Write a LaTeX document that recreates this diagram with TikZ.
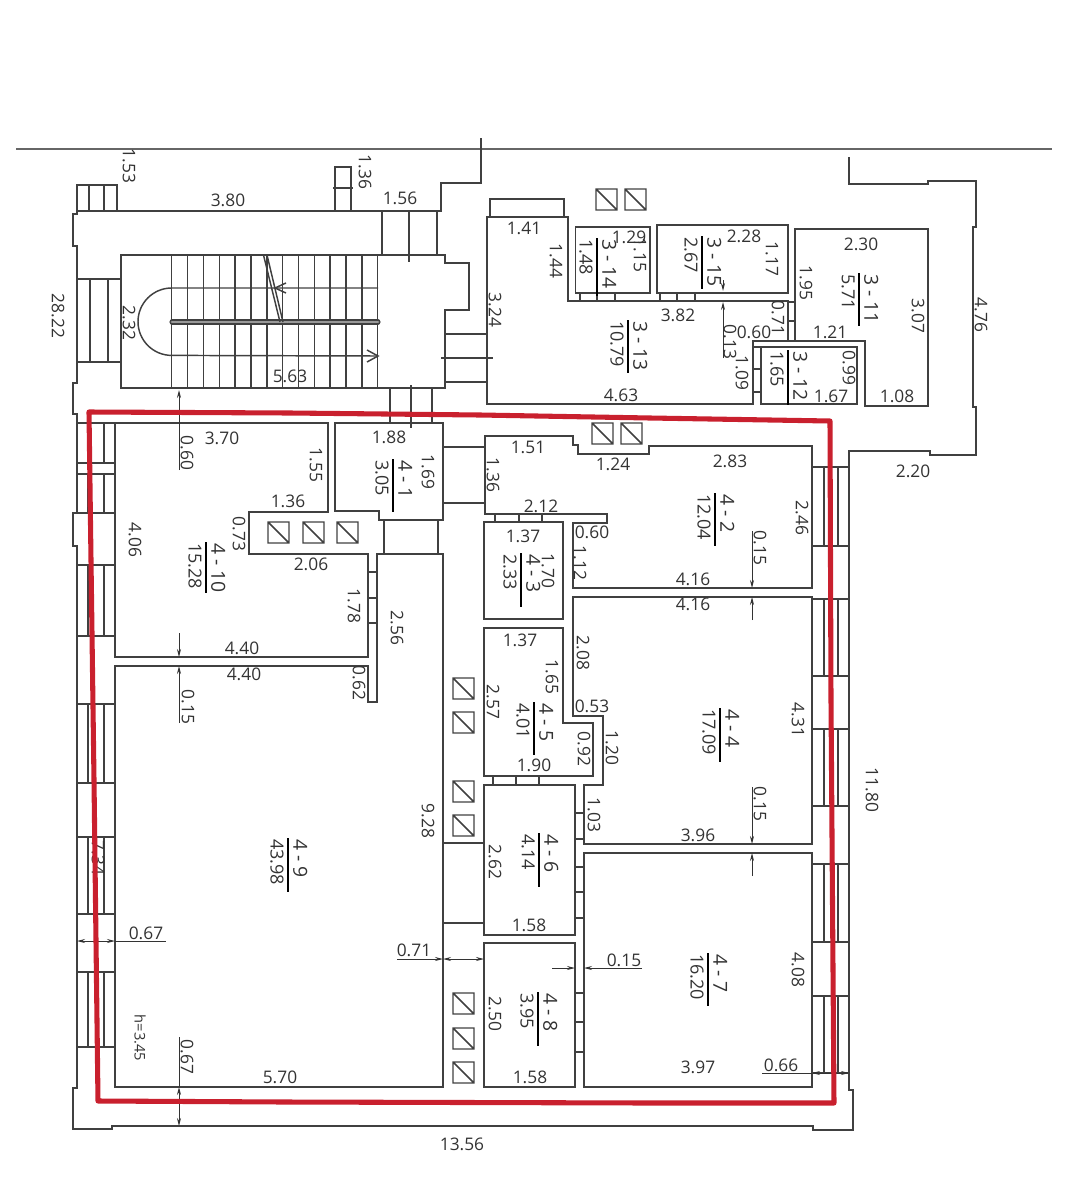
\documentclass[tikz,border=0pt]{standalone}
\usepackage{fontspec}
\setmainfont{Open Sans}
\usetikzlibrary{arrows.meta}
\definecolor{wallgray}{HTML}{404040}
\definecolor{markred}{HTML}{C9202E}
\tikzset{
  wall/.style = {draw = wallgray, line width = 1.1pt, line join = miter},
  dimline/.style = {draw = black!80, line width = 0.7pt, >={Stealth[length=6pt,width=3pt]}},
  dimh/.style = {text = black!80, font = \fontsize{13}{13}\selectfont, inner sep = 0pt},
  dimv/.style = {dimh, rotate = -90},
  roomtop/.style = {dimv, anchor = south west, font = \fontsize{14.5}{14.5}\selectfont},
  roomlow/.style = {dimv, anchor = north west, font = \fontsize{13.5}{13.5}\selectfont},
}
\newcommand{\shaftbox}[2]{\draw [wall] (#1,#2) rectangle ++(21,21) (#1,#2) -- ++(21,21);}
\begin{document}
\begin{tikzpicture}[x = 0.75pt, y = -0.75pt]
  \useasboundingbox (0,0) rectangle (1068,1200);

  % outer walls
  \draw [wall, draw = black!60] (16,149) -- (1052,149);
  \draw [wall] (481,138) -- (481,183) -- (441,183) -- (441,211) -- (77,211) -- (77,214) -- (73,214)
    -- (73,246) -- (77,246) -- (77,383) -- (73,383) -- (73,414) -- (77,414) -- (77,513) -- (73,513)
    -- (73,546) -- (77,546) -- (77,1088) -- (73,1088) -- (73,1129) -- (112,1129) -- (112,1126)
    -- (813,1126) -- (813,1130) -- (853,1130) -- (853,1090) -- (849,1090) -- (849,451) -- (930,451)
    -- (930,455) -- (976,455) -- (976,407) -- (973,407) -- (973,227) -- (976,227) -- (976,181)
    -- (928,181) -- (928,184) -- (849,184) -- (849,157);

  % porch steps and chimney
  \draw [wall] (77,211) -- (77,185) -- (117,185) -- (117,211) (89,185) -- (89,211) (104,185) -- (104,211);
  \draw [wall] (335,211) -- (335,167) -- (351,167) -- (351,211) (333,188) -- (353,188);
  \draw [wall] (77,279) -- (121,279) (77,362) -- (121,362) (90,279) -- (90,362) (108,279) -- (108,362);

  % staircase
  \draw [wall] (121,255) -- (445,255) -- (445,263) -- (469,263) -- (469,310) -- (445,310) -- (445,388)
    -- (121,388) -- cycle;
  \foreach \sx in {171.7,187.55,...,378}
    \draw [wall] (\sx,255) -- (\sx,388);
  \draw [wall] (378,288) -- (171.7,288) arc (270:90:33.7) -- (378,356);
  \draw [line width = 3.8pt, draw = wallgray, line cap = round] (172,322) -- (378,322);
  \draw [line width = 2.2pt, draw = black!40, line cap = round] (172,322) -- (378,322);
  \draw [wall] (263.5,255) -- (280,322) (267,255) -- (283,322);
  \draw [wall] (286,283) -- (275,288) -- (286,293) (367,350) -- (378,356) -- (367,362);
  \draw [wall] (382,211) -- (382,255) (437,211) -- (437,255) (409,211) -- (409,262);
  \draw [wall] (390,388) -- (390,423) (432,388) -- (432,423) (411,385) -- (411,428);
  \draw [wall] (445,334) -- (487,334) (445,382) -- (487,382) (441,358) -- (493,358);

  % third floor rooms
  \draw [wall] (487,217) -- (568,217) -- (568,301) -- (788,301) -- (788,341) -- (753,341) -- (753,404)
    -- (487,404) -- cycle;
  \draw [wall] (490,217) -- (490,199) -- (564,199) -- (564,217);
  \draw [wall] (575.5,227) rectangle (650,293);
  \draw [wall] (657,225) rectangle (788,293);
  \draw [wall] (795,229) -- (928,229) -- (928,406) -- (865,406) -- (865,341) -- (795,341) -- cycle;
  \draw [wall] (761,347) rectangle (857,404) (753,347) -- (761,347);
  \draw [wall] (753,369) -- (761,369) (753,392) -- (761,392);
  \foreach \tx in {580,597,615,660,677,695}
    \draw [wall] (\tx,293) -- (\tx,301);
  \foreach \ty in {302,321,341}
    \draw [wall] (788,\ty) -- (795,\ty);

  % fourth floor rooms
  \draw [wall] (115,423) -- (328,423) -- (328,512) -- (249,512) -- (249,554) -- (368,554) -- (368,657)
    -- (115,657) -- cycle;
  \draw [wall] (335,423) -- (443,423) -- (443,520) -- (379,520) -- (379,511) -- (335,511) -- cycle;
  \draw [wall] (384,520) -- (384,554) (438,520) -- (438,554);
  \draw [wall] (115,666) -- (368,666) -- (368,702) -- (377,702) -- (377,554) -- (443,554) -- (443,1087)
    -- (115,1087) -- cycle;
  \foreach \ty in {572,598,623}
    \draw [wall] (368,\ty) -- (377,\ty);
  \draw [wall] (443,447) -- (485,447) (443,503) -- (485,503) (443,843) -- (484,843) (443,923) -- (484,923);
  \draw [wall] (485,514) -- (485,436) -- (573,436) -- (573,445) -- (578,445) -- (578,454) -- (649,454)
    -- (649,446) -- (812,446) -- (812,588) -- (573,588) -- (573,523) -- (607,523) -- (607,514) -- cycle;
  \foreach \tx in {495,519,542}
    \draw [wall] (\tx,514) -- (\tx,522);
  \draw [wall] (484,522) rectangle (563,619);
  \draw [wall] (573,597) -- (812,597) -- (812,844) -- (584,844) -- (584,785) -- (603,785) -- (603,716)
    -- (573,716) -- cycle;
  \draw [wall] (484,628) -- (563,628) -- (563,723) -- (593,723) -- (593,776) -- (484,776) -- cycle;
  \foreach \tx in {493,516,539}
    \draw [wall] (\tx,776) -- (\tx,785);
  \draw [wall] (484,785) rectangle (575,935);
  \draw [wall] (484,943) rectangle (575,1087);
  \draw [wall] (584,853) rectangle (812,1087);
  \foreach \ty in {813,839,867,892,918,993,1022,1052}
    \draw [wall] (575,\ty) -- (584,\ty);

  % windows
  \foreach \wa/\wb in {423/463,474/513,565/636,704/783,837/914,972/1047}
    \draw [wall] (77,\wa) -- (115,\wa) (77,\wb) -- (115,\wb) (88,\wa) -- (88,\wb) (104,\wa) -- (104,\wb);
  \foreach \wa/\wb in {467/546,599/676,729/806,864/942,996/1073}
    \draw [wall] (812,\wa) -- (849,\wa) (812,\wb) -- (849,\wb) (824,\wa) -- (824,\wb) (838,\wa) -- (838,\wb);

  % shafts
  \foreach \bx/\by in {596/189,625/189,592/423,621/423,268/522,303/522,337/522,453/678,453/712,
    453/781,453/815,453/993,453/1028,453/1062}
    \shaftbox{\bx}{\by};

  % dimension arrows
  \draw [dimline, ->] (179,470) -- (179,390);
  \draw [dimline, ->] (179,633) -- (179,657);
  \draw [dimline, ->] (179,723) -- (179,666);
  \draw [dimline] (179,1037) -- (179,1087);
  \draw [dimline, <->] (179,1087) -- (179,1126);
  \draw [dimline, <->] (77,941) -- (115,941);
  \draw [dimline] (115,941) -- (166,941);
  \draw [dimline, ->] (397,959) -- (443,959);
  \draw [dimline, <->] (443,959) -- (484,959);
  \draw [dimline, ->] (552,968) -- (575,968);
  \draw [dimline, ->] (642,968) -- (584,968);
  \draw [dimline, <->] (812,1073) -- (849,1073);
  \draw [dimline] (762,1073) -- (812,1073);
  \draw [dimline, ->] (752,531) -- (752,588);
  \draw [dimline, ->] (752,620) -- (752,597);
  \draw [dimline, ->] (752,787) -- (752,844);
  \draw [dimline, ->] (752,876) -- (752,853);
  \draw [dimline, ->] (723,358) -- (723,302);
  \draw [dimline, ->] (723,280) -- (723,291);

  % room fractions
  \foreach \lx/\ly/\ls/\rn/\ra [count = \i] in {288/838/892/{4 - 9}/43.98,206/542/593/{4 - 10}/15.28,
    393/459/512/{4 - 1}/3.05,628/320/373/{3 - 13}/10.79,597/238/296/{3 - 14}/1.48,702/236/289/{3 - 15}/2.67,
    859/273/326/{3 - 11}/5.71,788/350/405/{3 - 12}/1.65,715/493/546/{4 - 2}/12.04,521/553/607/{4 - 3}/2.33,
    534/702/755/{4 - 5}/4.01,720/708/762/{4 - 4}/17.09,539/833/887/{4 - 6}/4.14,538/992/1046/{4 - 8}/3.95,
    708/953/1006/{4 - 7}/16.20} {
    \draw [draw = black, line width = 1.1pt] (\lx,\ly) -- (\lx,\ls);
    \node [roomtop] (rn\i) at (\lx+5,\ly+1) {\rn};
    \node [roomlow] (ra\i) at (\lx-4,\ly+1) {\ra};
  }

  % horizontal sizes
  \foreach \dx/\dy/\dt [count = \i] in {228/200/3.80,400/198/1.56,290/376/5.63,222/438/3.70,389/437/1.88,
    288/501/1.36,311/564/2.06,242/648/4.40,244/674/4.40,146/933/0.67,414/950/0.71,280/1077/5.70,
    462/1144/13.56,524/228/1.41,629/237/1.29,744/236/2.28,861/244/2.30,678/315/3.82,754/332/0.60,
    830/332/1.21,621/395/4.63,831/396/1.67,897/396/1.08,528/447/1.51,613/464/1.24,730/461/2.83,
    541/506/2.12,592/532/0.60,523/536/1.37,693/579/4.16,693/604/4.16,520/640/1.37,592/706/0.53,
    534/765/1.90,698/835/3.96,529/925/1.58,624/960/0.15,530/1077/1.58,698/1067/3.97,781/1065/0.66,
    913/471/2.20}
    \node [dimh] (dh\i) at (\dx,\dy) {\dt};

  % vertical sizes
  \foreach \dx/\dy/\dt [count = \i] in {129/166/1.53,365/172/1.36,58/316/28.22,129/323/2.32,495/310/3.24,
    556/261/1.44,640/255/1.15,772/259/1.17,806/283/1.95,918/316/3.07,981/315/4.76,
    730/342/0.13,778/318/0.71,742/373/1.09,849/368/0.99,187/453/0.60,316/465/1.55,428/472/1.69,
    239/534/0.73,135/540/4.06,354/606/1.78,397/628/2.56,359/683/0.62,188/707/0.15,493/475/1.36,
    802/518/2.46,760/548/0.15,548/571/1.70,580/563/1.12,583/653/2.08,552/677/1.65,493/702/2.57,
    798/720/4.31,584/749/0.92,612/748/1.20,594/815/1.03,760/804/0.15,495/862/2.62,495/1014/2.50,
    798/970/4.08,872/790/11.80,428/821/9.28,98/858/7.34,187/1057/0.67}
    \node [dimv] (dv\i) at (\dx,\dy) {\dt};
  \node [dimv, font = \fontsize{11}{11}\selectfont] (hgt) at (140,1038) {h=3.45};

  % marked area
  \draw [draw = markred, line width = 3.8pt, line join = round] (89,412) -- (290,413) -- (480,415)
    -- (650,418) -- (830,421) -- (831,700) -- (834,1103) -- (650,1103) -- (285,1102) -- (98,1101)
    -- (94,780) -- (91,560) -- cycle;
\end{tikzpicture}
\end{document}
